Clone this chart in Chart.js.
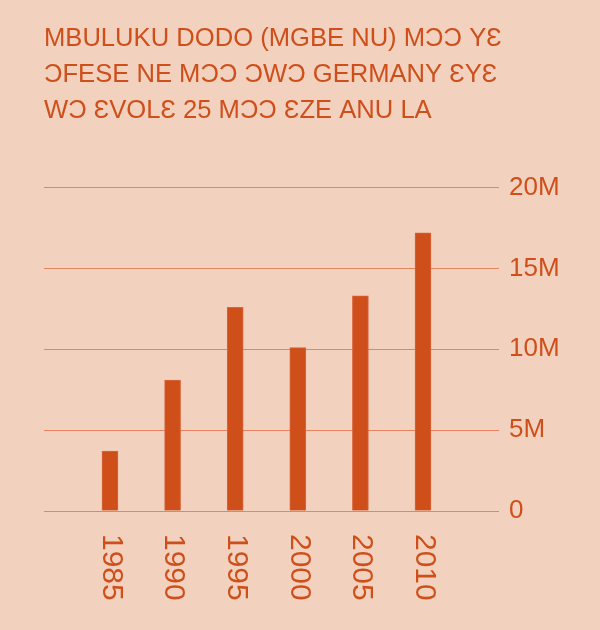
<!DOCTYPE html>
<html>
<head>
<meta charset="utf-8">
<script src="https://cdn.jsdelivr.net/npm/chart.js@4.4.1/dist/chart.umd.min.js"></script>
<style>
  html, body { margin: 0; padding: 0; background: #f2d2bf; }
  #wrap { width: 600px; height: 630px; }
</style>
</head>
<body>
<div id="wrap"><canvas id="chart" width="600" height="630"></canvas></div>
<script>
// Germany population data (millions of people)
const years = [1985, 1990, 1995, 2000, 2005, 2010];
const values = [3.7, 8.1, 12.6, 10.1, 13.3, 17.2];
const yTicks = [0, 5, 10, 15, 20];
const titleLines = [
  'MBULUKU DODO (MGBE NU) MƆƆ YƐ',
  'ƆFESE NE MƆƆ ƆWƆ GERMANY ƐYƐ',
  'WƆ ƐVOLƐ 25 MƆƆ ƐZE ANU LA'
];

const ink = '#cf4f1b';
const FONT = '"Liberation Sans", Arial, sans-serif';

// year labels run downward under each bar
const yearLabels = {
  id: 'yearLabels',
  afterDraw(chart) {
    const x = chart.scales.x;
    const ctx = chart.ctx;
    ctx.save();
    ctx.fillStyle = ink;
    ctx.font = '30px ' + FONT;
    ctx.textAlign = 'left';
    ctx.textBaseline = 'middle';
    years.forEach(y => {
      ctx.save();
      ctx.translate(x.getPixelForValue(y) + 1, chart.chartArea.bottom + 23);
      ctx.rotate(Math.PI / 2);
      ctx.fillText(String(y), 0, 0);
      ctx.restore();
    });
    ctx.restore();
  }
};

new Chart(document.getElementById('chart'), {
  type: 'bar',
  data: {
    datasets: [{
      data: years.map((y, i) => ({ x: y, y: values[i] })),
      backgroundColor: ink,
      borderColor: '#d9653a',
      borderWidth: 1,
      barThickness: 16
    }]
  },
  options: {
    responsive: false,
    animation: false,
    layout: { padding: { left: 44, top: 21, right: 0, bottom: 0 } },
    plugins: {
      legend: { display: false },
      tooltip: { enabled: false },
      title: {
        display: true,
        text: titleLines,
        align: 'start',
        color: ink,
        font: { family: FONT, size: 25.6, weight: 'normal', lineHeight: 1.4 },
        padding: { top: 0, bottom: 59 }
      }
    },
    scales: {
      x: {
        type: 'linear',
        offset: false,
        min: 1979.73,
        max: 2016.07,
        grid: { display: false },
        border: { display: false },
        ticks: { display: false },
        afterFit: s => { s.height = 119; }
      },
      y: {
        position: 'right',
        min: 0,
        max: 20,
        afterBuildTicks: s => { s.ticks = yTicks.map(v => ({ value: v })); },
        grid: { color: '#e68560', lineWidth: 1, drawTicks: false },
        border: { display: false },
        ticks: {
          color: ink,
          padding: 10,
          font: { family: FONT, size: 26 },
          callback: v => v === 0 ? '0' : v + 'M'
        },
        afterFit: s => { s.width = 101; }
      }
    }
  },
  plugins: [yearLabels]
});
</script>
</body>
</html>
